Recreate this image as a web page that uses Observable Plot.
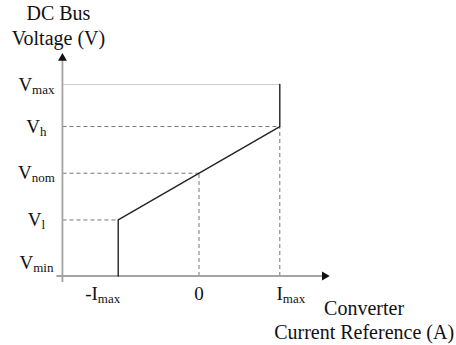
<!DOCTYPE html>
<html>
<head>
<meta charset="utf-8">
<script src="https://cdn.jsdelivr.net/npm/d3@7"></script>
<script src="https://cdn.jsdelivr.net/npm/@observablehq/plot@0.6"></script>
<style>
  body { margin: 0; background: #fff; }
  #chart svg { display: block; }
</style>
</head>
<body>
<div id="chart"></div>
<script>
// Current reference ticks (per-unit of I_max) and their labels ("|" marks a subscript)
const currentTicks = [-1, 0, 1];
const currentLabels = ["-I|max", "0", "I|max"];

// DC bus voltage levels and their labels
const voltageLevels = [0, 1.2, 2.2, 3.2, 4.1];
const voltageLabels = ["V|min", "V|l", "V|nom", "V|h", "V|max"];

// Droop characteristic: current limit at -I_max, linear droop, current limit at I_max
const droopCurrent = [-1, -1, 1, 1];
const droopVoltage = [0, 1.2, 3.2, 4.1];

// Extent of the drawn axes (arrow tips)
const axisCurrentExtent = [-1.69, 1.61];
const axisVoltageExtent = [0, 4.76];

// Axis titles
const yTitle = ["DC Bus", "Voltage (V)"];
const xTitle = ["Converter", "Current Reference (A)"];

const FONT = "'Liberation Serif', 'Times New Roman', serif";
const x0 = axisCurrentExtent[0];

const droop = droopCurrent.map((c, i) => ({c, v: droopVoltage[i]}));

// Horizontal dashed guides: V_l, V_nom, V_h run out to -I_max, 0, I_max
const hGuides = [1, 2, 3].map((k, j) => ({v: voltageLevels[k], c: currentTicks[j]}));
// Dotted guide at V_max out to I_max
const maxGuide = [{v: voltageLevels[4], c: currentTicks[2]}];
// Vertical dashed guides at 0 and I_max
const vGuides = [{c: currentTicks[1], v: voltageLevels[2]}, {c: currentTicks[2], v: voltageLevels[3]}];

const yLabels = voltageLevels.map((v, i) => ({v, label: voltageLabels[i]}));
const xLabels = currentTicks.map((c, i) => ({c, label: currentLabels[i]}));

const chart = Plot.plot({
  width: 456,
  height: 345,
  style: {fontFamily: FONT, background: "#fff", color: "#111"},
  x: {domain: [-1, 1], range: [117.7, 279.3], axis: null},
  y: {domain: [0, 4.1], range: [275.5, 84], axis: null},
  marks: [
    // guides
    Plot.link(hGuides, {x1: x0, x2: "c", y1: "v", y2: "v", stroke: "#777", strokeWidth: 1, strokeDasharray: "4,3"}),
    Plot.link(maxGuide, {x1: x0, x2: "c", y1: "v", y2: "v", stroke: "#999", strokeWidth: 1, strokeDasharray: "1,1"}),
    Plot.link(vGuides, {x1: "c", x2: "c", y1: axisVoltageExtent[0], y2: "v", stroke: "#777", strokeWidth: 1, strokeDasharray: "4,3"}),
    // axes
    Plot.link([0], {x1: x0, x2: axisCurrentExtent[1], y1: axisVoltageExtent[0], y2: axisVoltageExtent[0], stroke: "#a3a3a3", strokeWidth: 1.8, dx: -6}),
    Plot.link([0], {x1: x0, x2: x0, y1: axisVoltageExtent[0], y2: axisVoltageExtent[1], stroke: "#a3a3a3", strokeWidth: 1.8, dy: 6}),
    Plot.dot([0], {x: axisCurrentExtent[1], y: axisVoltageExtent[0], symbol: "triangle", r: 3.3, rotate: 90, fill: "#111", stroke: "none", dx: -4.5}),
    Plot.dot([0], {x: x0, y: axisVoltageExtent[1], symbol: "triangle", r: 3.3, fill: "#111", stroke: "none", dy: 4.5}),
    // droop characteristic
    Plot.line(droop, {x: "c", y: "v", stroke: "#222", strokeWidth: 1.4}),
    // voltage labels
    Plot.text(yLabels.slice(1), {x: x0, y: "v", text: "label", textAnchor: "middle", dx: -26, fontSize: 19, fill: "#111"}),
    Plot.text(yLabels.slice(0, 1), {x: x0, y: "v", text: "label", textAnchor: "middle", dx: -26, dy: -13, fontSize: 19, fill: "#111"}),
    // current labels
    Plot.text(xLabels.slice(0, 1), {x: "c", y: axisVoltageExtent[0], text: "label", textAnchor: "middle", dx: -15.5, dy: 18, fontSize: 19, fill: "#111"}),
    Plot.text(xLabels.slice(1, 2), {x: "c", y: axisVoltageExtent[0], text: "label", textAnchor: "middle", dy: 18, fontSize: 19, fill: "#111"}),
    Plot.text(xLabels.slice(2), {x: "c", y: axisVoltageExtent[0], text: "label", textAnchor: "middle", dx: 11, dy: 18, fontSize: 19, fill: "#111"}),
    // axis titles
    Plot.text([yTitle.join("\n")], {x: x0, frameAnchor: "top", lineAnchor: "top", dx: -4, dy: 2, lineHeight: 1.25, fontSize: 20, fill: "#111"}),
    Plot.text([xTitle.join("\n")], {x: axisCurrentExtent[1], y: axisVoltageExtent[0], lineAnchor: "top", dx: 35, dy: 22, lineHeight: 1.2, fontSize: 20, fill: "#111"})
  ]
});

// Render "|" labels as base text plus a subscript
const NS = "http://www.w3.org/2000/svg";
chart.querySelectorAll("text").forEach(t => {
  const s = t.textContent;
  if (!s.includes("|") || t.querySelector("tspan")) return;
  const [base, sub] = s.split("|");
  t.textContent = "";
  const a = document.createElementNS(NS, "tspan");
  a.textContent = base;
  const b = document.createElementNS(NS, "tspan");
  b.textContent = sub;
  b.setAttribute("font-size", 13);
  b.setAttribute("dy", 3);
  t.append(a, b);
});

document.getElementById("chart").append(chart);
</script>
</body>
</html>
